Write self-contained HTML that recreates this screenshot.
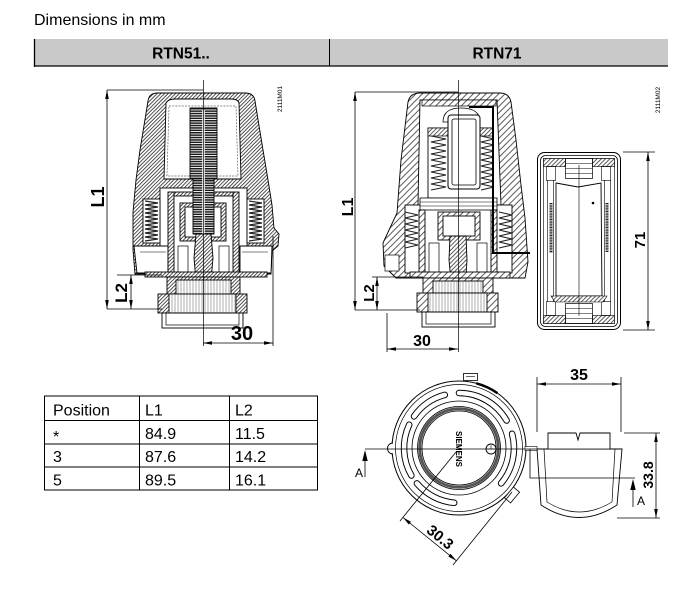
<!DOCTYPE html>
<html><head><meta charset="utf-8">
<style>
html,body{margin:0;padding:0;background:#fff;}
svg{display:block;}
text{font-family:"Liberation Sans",Arial,sans-serif;fill:#000;}
</style></head><body>
<svg width="691" height="600" viewBox="0 0 691 600" xmlns="http://www.w3.org/2000/svg">
<defs>
<pattern id="h51" width="2.6" height="2.6" patternUnits="userSpaceOnUse" patternTransform="rotate(45)">
<rect width="2.6" height="2.6" fill="#fff"/><line x1="0.5" y1="0" x2="0.5" y2="2.6" stroke="#333" stroke-width="0.85"/>
</pattern>
<pattern id="h71" width="4.5" height="4.5" patternUnits="userSpaceOnUse" patternTransform="rotate(45)">
<rect width="4.5" height="4.5" fill="#fff"/><line x1="0.5" y1="0" x2="0.5" y2="4.5" stroke="#333" stroke-width="0.8"/>
</pattern>
<pattern id="hs" width="3" height="3" patternUnits="userSpaceOnUse" patternTransform="rotate(45)">
<rect width="3" height="3" fill="#fff"/><line x1="0.5" y1="0" x2="0.5" y2="3" stroke="#333" stroke-width="0.8"/>
</pattern>
<pattern id="sp" width="4" height="2.4" patternUnits="userSpaceOnUse">
<rect width="4" height="2.4" fill="#fff"/><rect width="4" height="1.5" fill="#1a1a1a"/>
</pattern>
<pattern id="vl" width="3" height="3" patternUnits="userSpaceOnUse">
<rect width="3" height="3" fill="#fff"/><line x1="1" y1="0" x2="1" y2="3" stroke="#777" stroke-width="0.6"/>
</pattern>
<marker id="ar" viewBox="0 0 10 4" refX="10" refY="2" markerWidth="9" markerHeight="3.6" orient="auto-start-reverse" markerUnits="userSpaceOnUse"><path d="M0,0 L10,2 L0,4 Z" fill="#000"/></marker>
</defs>

<!-- Title -->
<text x="34" y="25" font-size="16">Dimensions in mm</text>

<!-- Header bar -->
<rect x="34" y="39" width="634" height="27" fill="#c9c9c9"/>
<line x1="34.5" y1="39" x2="34.5" y2="67" stroke="#000" stroke-width="1.3"/>
<line x1="34" y1="66" x2="668" y2="66" stroke="#000" stroke-width="1.3"/>
<line x1="329.5" y1="39" x2="329.5" y2="66" stroke="#000" stroke-width="1"/>
<text x="181" y="58.5" font-size="15.5" font-weight="bold" text-anchor="middle">RTN51..</text>
<text x="497" y="58.5" font-size="15.5" font-weight="bold" text-anchor="middle">RTN71</text>

<!-- ================= RTN51 ================= -->
<g stroke="#000" stroke-width="0.9">
<path d="M148,101 Q149,93 158,93 L245,93 Q254,93 255,101 L263,150 L268,180 L272,205 L274,228 L279,234 L278,246 L272,251 L271,274 L135,274 L133,250 L133,212 L136,180 L140,150 Z" fill="url(#h51)"/>
<path d="M166,103 Q168,99 175,99 L231,99 Q238,99 239,103 L241,179 L164,179 Z" fill="#fff"/>
<path d="M169,106 L236,106 L238,176 L167,176 Z" fill="none" stroke="#666" stroke-width="0.7" stroke-dasharray="2 1.2"/>
<rect x="160" y="188" width="87" height="86" fill="#fff"/>
<rect x="143" y="199" width="17" height="44" fill="#fff"/>
<rect x="247" y="199" width="17" height="44" fill="#fff"/>
<path d="M145,201 L158,203 L145,205 L158,207 L145,209 L158,211 L145,213 L158,215 L145,217 L158,219 L145,221 L158,223 L145,225 L158,227 L145,229 L158,231 L145,233 L158,235 L145,237 L158,239 L145,241" fill="none" stroke="#222" stroke-width="1.2"/>
<path transform="translate(104,0)" d="M145,201 L158,203 L145,205 L158,207 L145,209 L158,211 L145,213 L158,215 L145,217 L158,219 L145,221 L158,223 L145,225 L158,227 L145,229 L158,231 L145,233 L158,235 L145,237 L158,239 L145,241" fill="none" stroke="#222" stroke-width="1.2"/>
<path d="M134,246 L168,246 L168,273 L137,273 Z" fill="#fff"/>
<path d="M240,246 L272,246 L271,273 L240,273 Z" fill="#fff"/>
<line x1="140" y1="252" x2="166" y2="252" stroke-width="0.6"/>
<line x1="242" y1="252" x2="268" y2="252" stroke-width="0.6"/>
<rect x="168" y="192" width="6" height="82" fill="url(#h51)"/>
<rect x="233" y="192" width="6" height="82" fill="url(#h51)"/>
<rect x="174" y="192" width="59" height="4" fill="url(#h51)"/>
<rect x="180" y="203" width="46" height="38" fill="url(#h51)"/>
<rect x="185" y="207" width="36" height="30" fill="#fff"/>
<rect x="190" y="108" width="27" height="71" fill="url(#sp)"/>
<rect x="193" y="179" width="21" height="55" fill="url(#sp)"/>
<line x1="203.5" y1="110" x2="203.5" y2="234" stroke="#fff" stroke-width="2.5"/>
<path d="M196,234 L211,234 L213,258 L210,292 L197,292 L194,258 Z" fill="url(#h51)"/>
<rect x="178" y="246" width="10" height="27" fill="none" stroke-width="0.7"/>
<rect x="219" y="246" width="10" height="27" fill="none" stroke-width="0.7"/>
<rect x="145" y="272" width="122" height="5" fill="url(#h51)"/>
<rect x="167" y="277" width="73" height="17" fill="url(#h51)"/>
<rect x="176" y="280" width="55" height="14" fill="url(#vl)"/>
<rect x="158" y="294" width="89" height="19" fill="url(#h51)"/>
<rect x="169" y="294" width="67" height="19" fill="url(#vl)"/>
<rect x="162" y="313" width="81" height="15" fill="#fff"/>
<rect x="166" y="313" width="73" height="12" fill="none" stroke-width="0.7"/>
</g>
<line x1="203.5" y1="80" x2="203.5" y2="346" stroke="#000" stroke-width="0.7"/>
<text transform="translate(282,99) rotate(-90)" font-size="6.5" text-anchor="middle" fill="#333">2111M01</text>

<!-- RTN51 dimensions -->
<g stroke="#000" stroke-width="0.8">
<line x1="107" y1="90" x2="203" y2="90"/>
<line x1="107" y1="309" x2="162" y2="309"/>
<line x1="117" y1="275" x2="162" y2="275"/>
<line x1="107" y1="90" x2="107" y2="309" marker-start="url(#ar)" marker-end="url(#ar)"/>
<line x1="131" y1="275" x2="131" y2="309" marker-start="url(#ar)" marker-end="url(#ar)"/>
<line x1="273" y1="236" x2="273" y2="346"/>
<line x1="203" y1="343" x2="273" y2="343" marker-start="url(#ar)" marker-end="url(#ar)"/>
</g>
<text transform="translate(104,197) rotate(-90)" font-size="18" font-weight="bold" text-anchor="middle">L1</text>
<text transform="translate(127,293) rotate(-90)" font-size="17" font-weight="bold" text-anchor="middle">L2</text>
<text x="242" y="340" font-size="20" font-weight="bold" text-anchor="middle">30</text>

<!-- ================= RTN71 ================= -->
<g stroke="#000" stroke-width="0.9">
<path d="M408,102 Q410,93 420,93 L500,93 Q509,93 511,102 L516,140 L521,185 L525,218 L528,262 L525,278 L396,278 L384,266 L383,243 L389,230 L397,213 L401,160 Z" fill="url(#h71)"/>
<path d="M420,100 L497,100 L501,205 L418,205 Z" fill="#fff"/>
<rect x="405" y="205" width="107" height="68" fill="#fff"/>
<rect x="422" y="100" width="74" height="6" fill="url(#h71)" stroke-width="0.7"/>
<path d="M443,122 Q443,108 461,108 Q480,108 480,122 Z" fill="#fff" stroke-width="0.8"/>
<rect x="428" y="128" width="65" height="70" fill="#fff" stroke-width="0.9"/>
<rect x="428" y="128" width="22" height="8" fill="url(#hs)" stroke-width="0.7"/>
<rect x="471" y="128" width="22" height="8" fill="url(#hs)" stroke-width="0.7"/>
<path d="M431,136 L446,139 L431,142 L446,145 L431,148 L446,151 L431,154 L446,157 L431,160 L446,163 L431,166 L446,169 L431,172 L446,175 L431,178 L446,181 L431,184 L446,187 L431,190" fill="none" stroke="#222" stroke-width="1.1"/>
<path transform="translate(48,0)" d="M433,136 L446,139 L433,142 L446,145 L433,148 L446,151 L433,154 L446,157 L433,160 L446,163 L433,166 L446,169 L433,172 L446,175 L433,178 L446,181 L433,184 L446,187 L433,190" fill="none" stroke="#222" stroke-width="1.1"/>
<rect x="448" y="115" width="32" height="74" rx="3" fill="#fff" stroke-width="1"/>
<rect x="452" y="119" width="24" height="66" rx="2" fill="#fff" stroke-width="0.8"/>
<rect x="420" y="198" width="77" height="12" fill="#fff" stroke-width="0.8"/>
<line x1="420" y1="202" x2="497" y2="202" stroke-width="0.6"/>
<line x1="420" y1="206" x2="497" y2="206" stroke-width="0.6"/>
<path d="M405,212 L418,215 L405,218 L418,221 L405,224 L418,227 L405,230 L418,233 L405,236 L418,239 L405,242 L418,245 L405,248" fill="none" stroke="#222" stroke-width="1.1"/>
<path transform="translate(94,0)" d="M405,212 L418,215 L405,218 L418,221 L405,224 L418,227 L405,230 L418,233 L405,236 L418,239 L405,242 L418,245 L405,248" fill="none" stroke="#222" stroke-width="1.1"/>
<rect x="419" y="210" width="6" height="68" fill="url(#h71)"/>
<rect x="491" y="210" width="6" height="68" fill="url(#h71)"/>
<rect x="438" y="212" width="42" height="28" fill="url(#h71)"/>
<rect x="443" y="216" width="32" height="20" fill="#fff"/>
<path d="M450,236 L466,236 L467,260 L465,291 L452,291 L449,260 Z" fill="url(#hs)"/>
<rect x="429" y="243" width="10" height="30" fill="none" stroke-width="0.7"/>
<rect x="477" y="243" width="10" height="30" fill="none" stroke-width="0.7"/>
<rect x="385" y="255" width="14" height="16" fill="#fff" stroke-width="0.7"/>
<rect x="410" y="272" width="100" height="6" fill="url(#h71)"/>
<rect x="423" y="278" width="70" height="16" fill="url(#h71)"/>
<rect x="433" y="281" width="50" height="13" fill="url(#vl)"/>
<rect x="417" y="293" width="81" height="19" fill="url(#h71)"/>
<rect x="428" y="293" width="59" height="19" fill="url(#vl)"/>
<rect x="422" y="312" width="73" height="15" fill="#fff"/>
<rect x="426" y="312" width="65" height="12" fill="none" stroke-width="0.7"/>
</g>
<polyline points="469,107 493,107 493,253 530,253" fill="none" stroke="#000" stroke-width="2"/>
<line x1="458.5" y1="80" x2="458.5" y2="352" stroke="#000" stroke-width="0.7"/>
<text transform="translate(660,100) rotate(-90)" font-size="6.5" text-anchor="middle" fill="#333">2111M02</text>

<!-- RTN71 dimensions -->
<g stroke="#000" stroke-width="0.8">
<line x1="355" y1="92" x2="458" y2="92"/>
<line x1="355" y1="310" x2="420" y2="310"/>
<line x1="372" y1="277" x2="423" y2="277"/>
<line x1="355" y1="92" x2="355" y2="310" marker-start="url(#ar)" marker-end="url(#ar)"/>
<line x1="377" y1="277" x2="377" y2="310" marker-start="url(#ar)" marker-end="url(#ar)"/>
<line x1="387" y1="313" x2="387" y2="352"/>
<line x1="387" y1="349" x2="458" y2="349" marker-start="url(#ar)" marker-end="url(#ar)"/>
</g>
<text transform="translate(353,207) rotate(-90)" font-size="16" font-weight="bold" text-anchor="middle">L1</text>
<text transform="translate(374,293) rotate(-90)" font-size="15" font-weight="bold" text-anchor="middle">L2</text>
<text x="422" y="346" font-size="16" font-weight="bold" text-anchor="middle">30</text>

<!-- Side box -->
<g stroke="#000" fill="none">
<rect x="537.5" y="152.5" width="83" height="177" rx="7" fill="#fff" stroke-width="1"/>
<rect x="540.5" y="155.5" width="77" height="171" rx="5" stroke-width="0.8"/>
<rect x="543.5" y="158.5" width="71" height="165" stroke-width="0.6"/>
<rect x="543.5" y="158.5" width="22" height="8" fill="url(#hs)" stroke-width="0.6"/>
<rect x="592.5" y="158.5" width="22" height="8" fill="url(#hs)" stroke-width="0.6"/>
<rect x="543.5" y="315.5" width="22" height="8" fill="url(#hs)" stroke-width="0.6"/>
<rect x="592.5" y="315.5" width="22" height="8" fill="url(#hs)" stroke-width="0.6"/>
<rect x="565.5" y="158.5" width="27" height="20" stroke-width="0.7"/>
<path d="M565.5,163.5 H592.5 M565.5,168.5 H592.5 M565.5,173.5 H592.5" stroke-width="0.5"/>
<rect x="565.5" y="303.5" width="27" height="20" stroke-width="0.7"/>
<path d="M565.5,308.5 H592.5 M565.5,313.5 H592.5 M565.5,318.5 H592.5" stroke-width="0.5"/>
<rect x="546.5" y="166.5" width="9" height="14" stroke-width="0.6"/>
<rect x="601.5" y="166.5" width="9" height="14" stroke-width="0.6"/>
<rect x="546.5" y="301.5" width="9" height="14" stroke-width="0.6"/>
<rect x="601.5" y="301.5" width="9" height="14" stroke-width="0.6"/>
<path d="M547.5,180 V302 M553.5,180 V302 M604.5,180 V302 M610.5,180 V302" stroke-width="0.6"/>
<path d="M556,183 L578,187 L601,183 L602,296 L556,296 Z" fill="#fff" stroke-width="0.9"/>
<path d="M551,296 L607,296 L603,302 L555,302 Z" fill="url(#hs)" stroke-width="0.6"/>
<line x1="579" y1="165" x2="579" y2="316" stroke-width="0.6"/>
<line x1="551" y1="203" x2="551" y2="253" stroke="#222" stroke-width="3" stroke-dasharray="1 0.6"/>
<line x1="607" y1="203" x2="607" y2="252" stroke="#222" stroke-width="3" stroke-dasharray="1 0.6"/>
<circle cx="593" cy="203" r="1.3" fill="#000" stroke="none"/>
</g>
<g stroke="#000" stroke-width="0.8">
<line x1="623" y1="152" x2="655" y2="152"/>
<line x1="623" y1="330" x2="655" y2="330"/>
<line x1="648" y1="152" x2="648" y2="330" marker-start="url(#ar)" marker-end="url(#ar)"/>
</g>
<text transform="translate(645,240) rotate(-90)" font-size="15" font-weight="bold" text-anchor="middle">71</text>

<!-- ================= Table ================= -->
<g stroke="#000" stroke-width="1" fill="none">
<rect x="44.5" y="396" width="273" height="94"/>
<line x1="139.5" y1="396" x2="139.5" y2="490"/>
<line x1="229.5" y1="396" x2="229.5" y2="490"/>
<line x1="44.5" y1="420.5" x2="317.5" y2="420.5"/>
<line x1="44.5" y1="444" x2="317.5" y2="444"/>
<line x1="44.5" y1="467" x2="317.5" y2="467"/>
</g>
<g font-size="16">
<text x="53" y="415.5">Position</text><text x="145" y="415.5">L1</text><text x="235" y="415.5">L2</text>
<text x="53" y="442">*</text><text x="145" y="439">84.9</text><text x="235" y="439">11.5</text>
<text x="53" y="462">3</text><text x="145" y="462">87.6</text><text x="235" y="462">14.2</text>
<text x="53" y="485.5">5</text><text x="145" y="485.5">89.5</text><text x="235" y="485.5">16.1</text>
</g>

<!-- ================= Bottom circle view ================= -->
<g fill="none" stroke="#000">
<circle cx="459" cy="448" r="67" stroke-width="1" fill="#fff"/>
<circle cx="459" cy="448" r="63.5" stroke-width="0.7"/>
<g stroke-linecap="round">
<path d="M411.4,475.5 A55,55 0 0 1 409.2,424.7" stroke="#000" stroke-width="6.5"/>
<path d="M411.4,475.5 A55,55 0 0 1 409.2,424.7" stroke="#fff" stroke-width="4.6"/>
<path d="M414,416.4 A55,55 0 0 1 444.8,394.9" stroke="#000" stroke-width="6.5"/>
<path d="M414,416.4 A55,55 0 0 1 444.8,394.9" stroke="#fff" stroke-width="4.6"/>
<path d="M459,393 A55,55 0 0 1 506.6,420.5" stroke="#000" stroke-width="6.5"/>
<path d="M459,393 A55,55 0 0 1 506.6,420.5" stroke="#fff" stroke-width="4.6"/>
<path d="M512.1,433.8 A55,55 0 0 1 501.1,483.4" stroke="#000" stroke-width="6.5"/>
<path d="M512.1,433.8 A55,55 0 0 1 501.1,483.4" stroke="#fff" stroke-width="4.6"/>
<path d="M454.2,502.8 A55,55 0 0 1 416.9,483.4" stroke="#000" stroke-width="6.5"/>
<path d="M454.2,502.8 A55,55 0 0 1 416.9,483.4" stroke="#fff" stroke-width="4.6"/>
</g>
<circle cx="459" cy="448" r="47" stroke-width="0.8"/>
<circle cx="459" cy="448" r="41.5" stroke-width="0.8"/>
<circle cx="459" cy="448" r="39.3" stroke="#555" stroke-width="3"/>
<circle cx="459" cy="448" r="37" stroke-width="0.8"/>
<path d="M476.3,383.3 A67,67 0 0 1 497.4,393.1" stroke-width="2.5"/>
<rect x="463.5" y="373.5" width="14" height="7" fill="#fff" stroke-width="0.8"/>
<line x1="466" y1="376.5" x2="475" y2="376.5" stroke-width="0.6"/>
<rect x="508" y="488" width="8" height="14" transform="rotate(40 512 495)" fill="#fff" stroke-width="0.8"/>
<path d="M393,443 A5.5,5.5 0 0 0 393,454" fill="#fff" stroke-width="0.9"/>
<circle cx="491" cy="449" r="5" fill="#fff" stroke-width="0.9"/>
<path d="M487,449 H495 M491,445 V449" stroke-width="0.6"/>
</g>
<text transform="translate(456,449) rotate(90)" font-size="8" font-weight="bold" text-anchor="middle" fill="#333">SIEMENS</text>

<!-- Side view -->
<g fill="none" stroke="#000" stroke-width="0.9">
<path d="M537,449 L541,505 Q579,530 617,505 L622,449 Z" fill="#fff"/>
<path d="M544,449 L547,502 Q579,522 612,502 L615,449" stroke-width="0.7"/>
<path d="M548,449 L548,433 L576,433 L578,440 L580,433 L610,433 L610,449" fill="#fff"/>
<rect x="525" y="446.5" width="12" height="4" fill="#fff" stroke-width="0.6"/>
</g>

<!-- section lines and arrows -->
<g stroke="#000" stroke-width="0.8" fill="none">
<line x1="365" y1="449" x2="622" y2="449"/>
<polyline points="530,449 530,478 635,478"/>
<line x1="365" y1="460" x2="365" y2="477"/>
<line x1="633" y1="490" x2="633" y2="507"/>
</g>
<polygon points="365,450 362.3,461 367.7,461" fill="#000"/>
<polygon points="633,479 630.3,490 635.7,490" fill="#000"/>
<text x="355" y="477" font-size="12" fill="#333">A</text>
<text x="637" y="505" font-size="12" fill="#333">A</text>

<!-- 35 dim -->
<g stroke="#000" stroke-width="0.8">
<line x1="537" y1="377" x2="537" y2="432"/>
<line x1="621" y1="377" x2="621" y2="432"/>
<line x1="537" y1="384" x2="621" y2="384" marker-start="url(#ar)" marker-end="url(#ar)"/>
</g>
<text x="579" y="380" font-size="16" font-weight="bold" text-anchor="middle">35</text>

<!-- 33.8 dim -->
<g stroke="#000" stroke-width="0.8">
<line x1="624" y1="433" x2="660" y2="433"/>
<line x1="617" y1="518" x2="660" y2="518"/>
<line x1="656" y1="433" x2="656" y2="518" marker-start="url(#ar)" marker-end="url(#ar)"/>
</g>
<text transform="translate(653,475) rotate(-90)" font-size="14" font-weight="bold" text-anchor="middle">33.8</text>

<!-- 30.3 dim -->
<g stroke="#000" stroke-width="0.8">
<line x1="456" y1="452" x2="400" y2="521"/>
<line x1="512" y1="492" x2="453" y2="565"/>
<line x1="403" y1="517.5" x2="456.4" y2="560.8" marker-start="url(#ar)" marker-end="url(#ar)"/>
</g>
<text transform="translate(437,541) rotate(39)" font-size="15" font-weight="bold" text-anchor="middle">30.3</text>

</svg>
</body></html>
